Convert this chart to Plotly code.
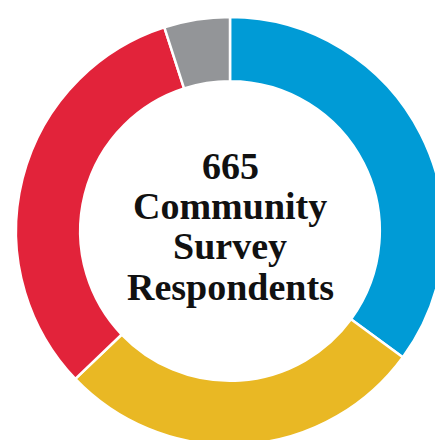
import plotly.graph_objects as go

categories = ["Blue group", "Yellow group", "Red group", "Gray group"]
values = [233, 185, 214, 33]
colors = ["#009BD6", "#E9B824", "#E2233A", "#939598"]
center_lines = ["665", "Community", "Survey", "Respondents"]

fig = go.Figure(
    go.Pie(
        labels=categories,
        values=values,
        hole=0.70,
        sort=False,
        direction="clockwise",
        rotation=0,
        marker=dict(colors=colors, line=dict(color="white", width=2.5)),
        textinfo="none",
        hoverinfo="label+value",
        showlegend=False,
    )
)

line_shifts = [65, 25, -15, -56]
for txt, sh in zip(center_lines, line_shifts):
    fig.add_annotation(
        x=0.5, y=0.5, xref="paper", yref="paper",
        text=f"<b>{txt}</b>",
        showarrow=False,
        yshift=sh,
        font=dict(family="Liberation Serif", size=38, color="#111111"),
        align="center",
    )

fig.update_layout(
    width=460, height=460,
    margin=dict(l=16, r=16, t=17, b=15),
    paper_bgcolor="white",
    plot_bgcolor="white",
)

fig.write_html(
    "out.html",
    post_script="document.body.style.margin='0';document.body.style.overflow='hidden';document.documentElement.style.overflow='hidden';",
)
